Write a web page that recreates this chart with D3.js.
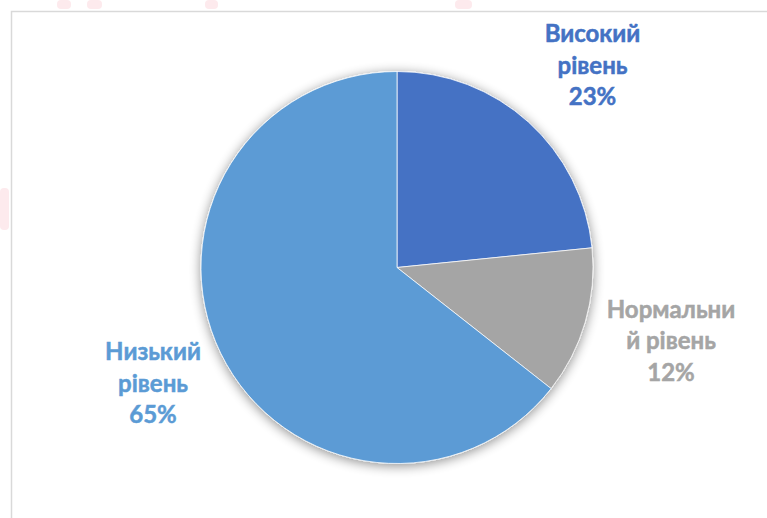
<!DOCTYPE html>
<html>
<head>
<meta charset="utf-8">
<script src="https://cdn.jsdelivr.net/npm/d3@7"></script>
<style>
  html, body { margin: 0; padding: 0; background: #fff; }
  svg { display: block; }
</style>
</head>
<body>
<div id="chart"></div>
<script>
// categories, values and the printed labels
const categories = ["Високий", "Нормальний", "Низький"];
const values = [23.4, 12.2, 64.4];
const percentLabels = ["23%", "12%", "65%"];
const colors = ["#4472C4", "#A5A5A5", "#5B9BD5"];
// label text split into lines as in the picture
const labelLines = [
  ["Високий", "рівень", "23%"],
  ["Нормальни", "й рівень", "12%"],
  ["Низький", "рівень", "65%"]
];

const width = 767;
const height = 518;
const cx = 397;
const cy = 267.5;
const radius = 196;

const svg = d3.select("#chart")
  .append("svg")
    .attr("width", width)
    .attr("height", height);

// soft shadow round the pie
const defs = svg.append("defs");
const filter = defs.append("filter")
    .attr("id", "shadow")
    .attr("x", "-20%").attr("y", "-20%")
    .attr("width", "140%").attr("height", "140%");
filter.append("feGaussianBlur")
    .attr("in", "SourceAlpha")
    .attr("stdDeviation", 6);
filter.append("feOffset").attr("dx", 0).attr("dy", 2).attr("result", "blur");
filter.append("feComponentTransfer")
  .append("feFuncA").attr("type", "linear").attr("slope", 0.45);
const merge = filter.append("feMerge");
merge.append("feMergeNode");
merge.append("feMergeNode").attr("in", "SourceGraphic");

// faint pink marks from the page behind the chart
const marks = [[57, 0, 14, 9], [87, 0, 15, 9], [205, 0, 13, 9], [455, 0, 17, 9], [0, 188, 9, 42]];
svg.append("g")
  .selectAll("rect")
  .data(marks)
  .join("rect")
    .attr("x", d => d[0]).attr("y", d => d[1])
    .attr("width", d => d[2]).attr("height", d => d[3])
    .attr("rx", 4)
    .attr("fill", "#fdeaed");

// chart area border
svg.append("rect")
    .attr("x", 11.5)
    .attr("y", 11.5)
    .attr("width", width)
    .attr("height", height)
    .attr("fill", "#fff")
    .attr("stroke", "#d9d9d9")
    .attr("stroke-width", 1.5);

/*******************************/
/*        Pie slices           */
/*******************************/
const pie = d3.pie()
  .sort(null)
  .value(d => d.value);

const arc = d3.arc()
  .innerRadius(0)
  .outerRadius(radius);

const data = categories.map((c, i) => ({category: c, value: values[i], pct: percentLabels[i]}));

const pieGroup = svg.append("g")
    .attr("transform", `translate(${cx}, ${cy})`);

pieGroup.append("g")
    .attr("filter", "url(#shadow)")
  .selectAll("path")
  .data(pie(data))
  .join("path")
    .attr("d", arc)
    .attr("fill", (d, i) => colors[i])
    .attr("stroke", "#fff")
    .attr("stroke-width", 0.75);

/*******************************/
/*          Labels             */
/*******************************/
const labelPos = [
  {x: 592.5, y: 42},
  {x: 671, y: 317.5},
  {x: 153, y: 360}
];
const lineHeight = 31.5;

labelLines.forEach((lines, i) => {
  const t = svg.append("text")
      .attr("text-anchor", "middle")
      .attr("font-family", "Lato, 'Open Sans', sans-serif")
      .attr("font-weight", "bold")
      .attr("font-size", 24)
      .attr("fill", colors[i])
      .attr("stroke", colors[i])
      .attr("stroke-width", 0.5);
  lines.forEach((line, j) => {
    t.append("tspan")
        .attr("x", labelPos[i].x)
        .attr("y", labelPos[i].y + j * lineHeight)
        .text(line);
  });
});
</script>
</body>
</html>
